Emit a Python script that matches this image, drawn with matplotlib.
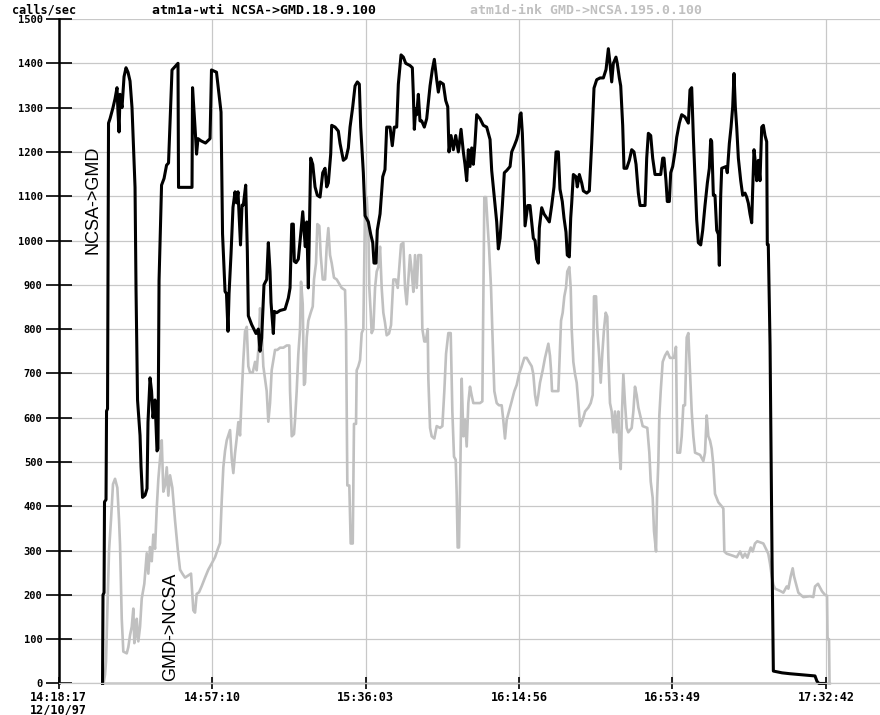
import matplotlib
matplotlib.use('Agg')
import matplotlib.pyplot as plt

# time axis: seconds after 14:18:17 (12/10/97), one tick every 38:53
tick_step = 2333
tick_labels = ['14:18:17\n12/10/97', '14:57:10', '15:36:03', '16:14:56', '16:53:49', '17:32:42']
y_ticks = list(range(0, 1501, 100))

# atm1a-wti NCSA->GMD (black), (seconds, calls/sec)
ncsa_gmd = [
    (669, 0), (676, 200), (692, 205), (699, 410), (722, 415), (730, 615), (745, 620), (752, 940),
    (760, 1265), (783, 1275), (828, 1300), (859, 1320), (889, 1345), (904, 1290), (920, 1245),
    (935, 1330), (965, 1300), (996, 1370), (1026, 1390), (1056, 1380), (1087, 1360), (1117, 1300),
    (1163, 1120), (1178, 890), (1201, 640), (1239, 560), (1254, 490), (1277, 420), (1315, 425),
    (1345, 440), (1360, 590), (1391, 690), (1414, 660), (1436, 600), (1467, 640), (1497, 525),
    (1512, 530), (1528, 910), (1566, 1125), (1604, 1140), (1642, 1170), (1672, 1175), (1725, 1385),
    (1786, 1395), (1816, 1400), (1824, 1120), (2029, 1120), (2037, 1345), (2075, 1255), (2098, 1195),
    (2120, 1230), (2166, 1225), (2234, 1220), (2303, 1230), (2325, 1385), (2401, 1380), (2439, 1330),
    (2470, 1290), (2493, 1015), (2531, 885), (2553, 880), (2576, 795), (2592, 880), (2622, 970),
    (2652, 1075), (2683, 1110), (2705, 1085), (2728, 1110), (2766, 990), (2789, 1080), (2809, 1080),
    (2845, 1125), (2870, 975), (2885, 830), (2936, 810), (3002, 790), (3037, 800), (3063, 750),
    (3088, 780), (3123, 900), (3164, 912), (3189, 995), (3215, 930), (3230, 860), (3265, 790),
    (3280, 840), (3316, 837), (3367, 842), (3443, 845), (3493, 870), (3519, 893), (3545, 1037),
    (3569, 1037), (3584, 953), (3610, 950), (3645, 958), (3681, 1014), (3712, 1065), (3736, 1014),
    (3751, 986), (3773, 1042), (3797, 893), (3833, 1186), (3864, 1172), (3899, 1121), (3934, 1102),
    (3975, 1098), (4016, 1153), (4051, 1163), (4076, 1121), (4101, 1130), (4137, 1195), (4152, 1260),
    (4203, 1256), (4253, 1247), (4279, 1219), (4329, 1181), (4370, 1186), (4405, 1209), (4431, 1256),
    (4472, 1302), (4507, 1349), (4542, 1358), (4572, 1353), (4593, 1256), (4633, 1153), (4659, 1056),
    (4709, 1042), (4745, 1014), (4776, 995), (4795, 949), (4826, 949), (4845, 1023), (4887, 1060),
    (4928, 1144), (4962, 1160), (4988, 1256), (5039, 1256), (5073, 1214), (5104, 1256), (5140, 1256),
    (5165, 1353), (5206, 1419), (5241, 1414), (5277, 1400), (5342, 1395), (5378, 1390), (5393, 1330),
    (5408, 1251), (5429, 1298), (5444, 1284), (5469, 1330), (5494, 1270), (5520, 1270), (5560, 1256),
    (5596, 1275), (5647, 1349), (5682, 1386), (5712, 1409), (5748, 1363), (5773, 1335), (5799, 1358),
    (5849, 1353), (5885, 1316), (5916, 1302), (5935, 1200), (5966, 1237), (6001, 1205), (6037, 1237),
    (6077, 1200), (6118, 1251), (6153, 1200), (6178, 1172), (6204, 1135), (6229, 1205), (6254, 1167),
    (6280, 1209), (6305, 1172), (6330, 1219), (6356, 1284), (6407, 1275), (6457, 1260), (6508, 1256),
    (6559, 1228), (6584, 1158), (6624, 1098), (6660, 1042), (6685, 981), (6711, 1005), (6746, 1079),
    (6776, 1153), (6812, 1158), (6863, 1167), (6888, 1200), (6928, 1214), (6964, 1228), (6989, 1242),
    (7014, 1284), (7030, 1288), (7050, 1242), (7071, 1153), (7091, 1033), (7132, 1079), (7166, 1079),
    (7192, 1040), (7217, 1005), (7243, 1000), (7268, 958), (7293, 949), (7308, 1028), (7344, 1074),
    (7379, 1060), (7420, 1051), (7460, 1042), (7496, 1079), (7531, 1121), (7562, 1200), (7597, 1200),
    (7622, 1116), (7657, 1088), (7683, 1051), (7713, 1019), (7733, 967), (7764, 963), (7785, 1051),
    (7800, 1084), (7825, 1149), (7866, 1144), (7885, 1121), (7916, 1149), (7952, 1130), (7977, 1112),
    (8028, 1107), (8068, 1112), (8104, 1219), (8139, 1344), (8180, 1363), (8231, 1367), (8281, 1367),
    (8322, 1386), (8357, 1433), (8382, 1400), (8408, 1358), (8433, 1400), (8473, 1414), (8493, 1400),
    (8524, 1367), (8545, 1349), (8575, 1260), (8595, 1163), (8636, 1163), (8676, 1181), (8712, 1205),
    (8747, 1200), (8778, 1172), (8813, 1107), (8839, 1079), (8915, 1079), (8940, 1186), (8965, 1242),
    (9001, 1237), (9031, 1186), (9066, 1149), (9153, 1149), (9183, 1186), (9203, 1186), (9233, 1135),
    (9253, 1088), (9284, 1088), (9305, 1153), (9335, 1167), (9370, 1200), (9396, 1233), (9436, 1265),
    (9472, 1284), (9522, 1279), (9573, 1265), (9598, 1340), (9624, 1345), (9649, 1233), (9675, 1140),
    (9700, 1047), (9725, 995), (9761, 990), (9791, 1023), (9826, 1079), (9862, 1130), (9892, 1163),
    (9913, 1228), (9928, 1223), (9953, 1102), (9978, 1102), (10004, 1023), (10029, 1014), (10044, 944),
    (10065, 1102), (10080, 1163), (10146, 1167), (10165, 1153), (10196, 1219), (10222, 1256),
    (10247, 1302), (10267, 1377), (10287, 1302), (10308, 1256), (10333, 1186), (10369, 1135),
    (10399, 1102), (10434, 1107), (10460, 1098), (10485, 1084), (10510, 1060), (10536, 1040),
    (10551, 1116), (10571, 1205), (10591, 1177), (10612, 1135), (10637, 1181), (10662, 1135),
    (10688, 1256), (10713, 1260), (10738, 1237), (10764, 1223), (10773, 991), (10788, 991),
    (10815, 763), (10829, 540), (10845, 284), (10865, 28), (10997, 24), (11118, 22), (11270, 20),
    (11422, 18), (11498, 17), (11528, 5), (11559, 0), (11650, 0),
]

# atm1d-ink GMD->NCSA (gray)
gmd_ncsa = [
    (684, 0), (707, 20), (722, 50), (745, 180), (768, 300), (798, 370), (828, 450), (859, 462),
    (894, 442), (920, 368), (935, 313), (950, 211), (961, 146), (985, 72), (1037, 68), (1061, 82),
    (1087, 109), (1113, 128), (1137, 169), (1152, 91), (1173, 109), (1189, 146), (1213, 95),
    (1239, 128), (1265, 192), (1304, 225), (1341, 294), (1365, 248), (1391, 308), (1417, 276),
    (1441, 336), (1467, 304), (1493, 396), (1517, 461), (1543, 507), (1569, 549), (1593, 433),
    (1619, 447), (1645, 488), (1669, 424), (1695, 470), (1730, 442), (1771, 368), (1812, 303),
    (1847, 257), (1882, 248), (1923, 239), (2014, 248), (2049, 165), (2075, 160), (2100, 202),
    (2136, 206), (2177, 220), (2227, 239), (2277, 257), (2329, 271), (2379, 285), (2420, 303),
    (2455, 317), (2481, 414), (2505, 488), (2531, 525), (2557, 549), (2607, 572), (2633, 507),
    (2657, 475), (2683, 520), (2708, 553), (2733, 590), (2759, 560), (2784, 650), (2809, 730),
    (2835, 795), (2861, 805), (2885, 716), (2911, 702), (2952, 702), (2987, 726), (3012, 707),
    (3037, 753), (3063, 847), (3088, 800), (3113, 716), (3139, 688), (3164, 660), (3189, 591),
    (3215, 633), (3240, 707), (3265, 730), (3291, 753), (3326, 753), (3367, 758), (3417, 758),
    (3468, 763), (3508, 763), (3519, 660), (3545, 558), (3579, 563), (3595, 595), (3620, 660),
    (3645, 744), (3671, 800), (3686, 907), (3712, 856), (3731, 674), (3747, 679), (3773, 781),
    (3797, 819), (3833, 837), (3864, 851), (3883, 912), (3914, 949), (3934, 1037), (3964, 1033),
    (3985, 967), (4016, 912), (4051, 912), (4076, 986), (4101, 1028), (4127, 967), (4152, 949),
    (4187, 916), (4228, 912), (4268, 902), (4304, 893), (4355, 888), (4370, 800), (4390, 447),
    (4420, 447), (4441, 316), (4472, 316), (4491, 586), (4522, 586), (4532, 707), (4557, 716),
    (4583, 730), (4608, 791), (4633, 800), (4659, 1079), (4684, 1098), (4709, 1033), (4724, 893),
    (4745, 837), (4760, 791), (4785, 800), (4811, 893), (4836, 930), (4861, 940), (4887, 986),
    (4912, 893), (4937, 837), (4962, 815), (4988, 786), (5023, 790), (5054, 809), (5073, 865),
    (5089, 912), (5125, 912), (5156, 893), (5175, 930), (5206, 991), (5241, 995), (5267, 893),
    (5292, 856), (5317, 912), (5342, 967), (5368, 930), (5393, 884), (5419, 967), (5444, 893),
    (5469, 967), (5510, 967), (5530, 800), (5560, 772), (5581, 772), (5612, 800), (5621, 688),
    (5647, 577), (5672, 558), (5712, 553), (5748, 581), (5799, 577), (5834, 581), (5864, 660),
    (5890, 744), (5925, 791), (5961, 791), (5986, 614), (6011, 512), (6037, 505), (6052, 428),
    (6067, 307), (6087, 307), (6102, 433), (6128, 688), (6153, 558), (6178, 595), (6204, 535),
    (6229, 633), (6254, 670), (6280, 650), (6305, 633), (6356, 633), (6407, 633), (6442, 637),
    (6457, 856), (6472, 1098), (6498, 1098), (6523, 1033), (6543, 986), (6574, 893), (6593, 800),
    (6624, 660), (6660, 633), (6695, 628), (6736, 628), (6760, 595), (6786, 553), (6812, 595),
    (6847, 614), (6888, 637), (6928, 660), (6964, 674), (6999, 698), (7040, 716), (7080, 735),
    (7116, 735), (7151, 726), (7192, 716), (7217, 698), (7243, 651), (7268, 628), (7293, 651),
    (7318, 679), (7359, 707), (7394, 735), (7445, 767), (7470, 740), (7486, 707), (7501, 660),
    (7547, 660), (7597, 660), (7612, 716), (7638, 819), (7663, 837), (7688, 874), (7713, 893),
    (7733, 930), (7764, 940), (7785, 893), (7800, 800), (7825, 726), (7851, 698), (7876, 679),
    (7901, 633), (7927, 581), (7967, 595), (8003, 614), (8053, 623), (8089, 633), (8119, 651),
    (8139, 874), (8170, 874), (8189, 800), (8215, 744), (8241, 679), (8265, 744), (8291, 800),
    (8317, 837), (8341, 828), (8357, 735), (8382, 633), (8408, 614), (8433, 567), (8458, 614),
    (8484, 567), (8509, 614), (8524, 530), (8545, 484), (8565, 614), (8585, 698), (8610, 633),
    (8636, 577), (8660, 567), (8712, 577), (8737, 614), (8762, 670), (8788, 651), (8813, 623),
    (8879, 581), (8949, 577), (8980, 521), (9001, 456), (9031, 419), (9051, 344), (9082, 298),
    (9097, 419), (9117, 500), (9132, 605), (9153, 660), (9183, 726), (9218, 740), (9253, 749),
    (9294, 735), (9355, 735), (9385, 760), (9405, 521), (9447, 521), (9472, 558), (9497, 628),
    (9522, 628), (9548, 781), (9573, 791), (9598, 707), (9624, 614), (9649, 558), (9675, 521),
    (9751, 516), (9801, 502), (9826, 521), (9852, 605), (9877, 558), (9903, 548), (9928, 530),
    (9953, 493), (9978, 428), (10029, 409), (10080, 400), (10105, 395), (10120, 298), (10156, 293),
    (10257, 288), (10308, 285), (10359, 298), (10399, 284), (10434, 293), (10470, 284), (10500, 298),
    (10521, 307), (10551, 298), (10586, 316), (10621, 321), (10713, 316), (10788, 293), (10815, 270),
    (10841, 242), (10865, 223), (10891, 214), (10967, 209), (11017, 205), (11068, 219), (11093, 214),
    (11129, 242), (11159, 260), (11179, 242), (11245, 205), (11281, 200), (11321, 195), (11422, 197),
    (11473, 195), (11498, 219), (11544, 225), (11605, 208), (11650, 200), (11681, 198), (11689, 100),
    (11711, 100), (11719, 0),
]

mono = 'DejaVu Sans Mono'
gray = '#c0c0c0'

fig = plt.figure(figsize=(8.8, 7.15), dpi=100)
ax = fig.add_axes([0.0665, 0.0441, 0.9335, 0.9293])
ax.set_xlim(0, 12486)
ax.set_ylim(0, 1500)

xt = [i * tick_step for i in range(len(tick_labels))]
ax.set_xticks(xt)
ax.set_xticklabels(tick_labels, fontfamily=mono, fontweight='bold', fontsize=8.5, linespacing=0.95)
ax.set_yticks(y_ticks)
ax.set_yticklabels([str(v) for v in y_ticks], fontfamily=mono, fontweight='bold', fontsize=7.5)
ax.grid(color='#c8c8c8', lw=0.9)
ax.set_axisbelow(True)

for s in ['top', 'right']:
    ax.spines[s].set_visible(False)
ax.spines['bottom'].set_color('#c8c8c8')
ax.spines['bottom'].set_linewidth(0.9)
ax.spines['left'].set_color('black')
ax.spines['left'].set_linewidth(1.8)
ax.tick_params(axis='y', direction='inout', length=19, width=1.2, color='black', pad=2)
ax.tick_params(axis='x', direction='inout', length=9, width=1.2, color='black', pad=1)

gt, gv = zip(*gmd_ncsa)
bt, bv = zip(*ncsa_gmd)
ax.plot([bt[0], gt[-1]], [0, 0], color='#404040', lw=1.0, clip_on=False)
ax.plot(gt, gv, color=gray, lw=1.9, clip_on=False)
ax.plot(bt, bv, color='black', lw=2.2, clip_on=False)

ax.text(0.042, 0.728, 'NCSA->GMD', transform=ax.transAxes, rotation=90, ha='center', va='center',
        fontfamily='Liberation Sans', fontsize=13)
ax.text(0.137, 0.085, 'GMD->NCSA', transform=ax.transAxes, rotation=90, ha='center', va='center',
        fontfamily='Liberation Sans', fontsize=13)

fig.text(12 / 880, 0.986, 'calls/sec', fontfamily=mono, fontweight='bold', fontsize=8.5, va='center')
fig.text(152 / 880, 0.986, 'atm1a-wti NCSA->GMD.18.9.100', fontfamily=mono, fontweight='bold',
         fontsize=9.5, va='center')
fig.text(470 / 880, 0.986, 'atm1d-ink GMD->NCSA.195.0.100', fontfamily=mono, fontweight='bold',
         fontsize=9.5, va='center', color=gray)

fig.savefig('out.png', dpi=100)
